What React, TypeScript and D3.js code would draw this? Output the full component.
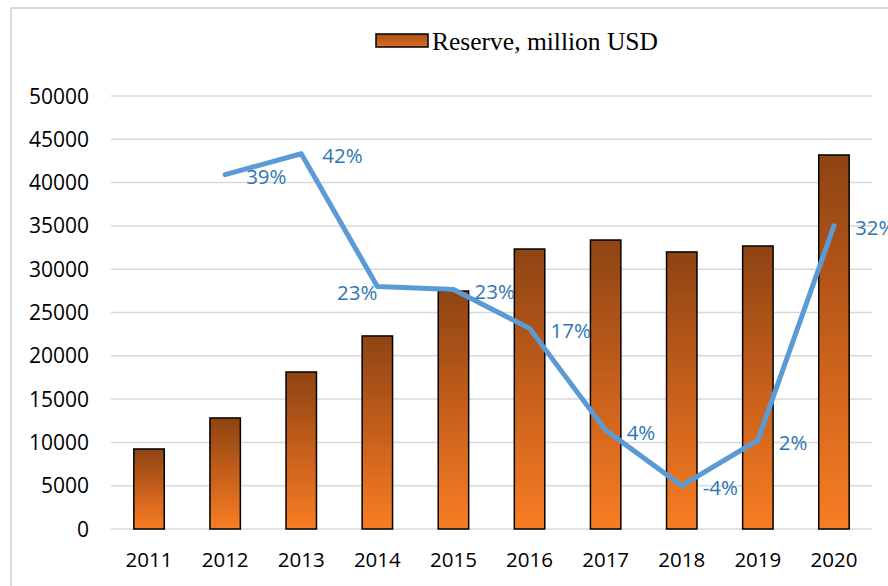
import React from "react";
import * as d3 from "d3";

const years = ["2011", "2012", "2013", "2014", "2015", "2016", "2017", "2018", "2019", "2020"];
const reserve = [9240, 12820, 18130, 22290, 27480, 32330, 33370, 31990, 32680, 43190];
const growthYears = ["2012", "2013", "2014", "2015", "2016", "2017", "2018", "2019", "2020"];
const growth = [39.1, 42.0, 23.6, 23.2, 17.8, 3.7, -4.0, 2.3, 32.0];
const growthLabels = ["39%", "42%", "23%", "23%", "17%", "4%", "-4%", "2%", "32%"];
const yTicks = [0, 5000, 10000, 15000, 20000, 25000, 30000, 35000, 40000, 45000, 50000];
const legendLabel = "Reserve, million USD";

const W = 888;
const H = 586;
const left = 111;
const right = 872;
const top = 96;
const bottom = 529;

export default function App() {
  const x = d3.scaleBand<string>().domain(years).range([left, right]).paddingInner(0.6).paddingOuter(0.3);
  const y = d3.scaleLinear().domain([0, 50000]).range([bottom, top]);
  const y2 = d3.scaleLinear().domain([-10, 50]).range([bottom, top]);
  const cx = (yr: string) => (x(yr) as number) + x.bandwidth() / 2;
  const line = d3
    .line<number>()
    .x((_, i) => cx(growthYears[i]))
    .y((d) => y2(d));
  const tickFont = "'Open Sans', sans-serif";

  return (
    <svg width={W} height={H} style={{ position: "absolute", left: 0, top: 0, background: "#fff" }}>
      <defs>
        <linearGradient id="barGrad" x1="0" y1="0" x2="0" y2="1">
          <stop offset="0%" stopColor="#8e4413" />
          <stop offset="50%" stopColor="#c65f1b" />
          <stop offset="100%" stopColor="#f87d24" />
        </linearGradient>
        <linearGradient id="legGrad" x1="0" y1="0" x2="0" y2="1">
          <stop offset="0%" stopColor="#a4501a" />
          <stop offset="100%" stopColor="#e06f20" />
        </linearGradient>
      </defs>
      <rect x={0} y={0} width={W} height={H} fill="#fff" />
      <line x1={11} y1={8} x2={W} y2={8} stroke="#d9d9d9" strokeWidth={2} />
      <line x1={11} y1={8} x2={11} y2={H} stroke="#d9d9d9" strokeWidth={2} />

      {yTicks.map((t) => (
        <g key={t}>
          <line x1={left} x2={right} y1={y(t)} y2={y(t)} stroke="#d9d9d9" strokeWidth={1.5} />
          <text x={89} y={y(t)} dy="0.36em" textAnchor="end" fontFamily={tickFont} fontSize={21} fill="#000">
            {t}
          </text>
        </g>
      ))}

      {years.map((yr, i) => (
        <rect
          key={yr}
          x={x(yr)}
          y={y(reserve[i])}
          width={x.bandwidth()}
          height={y(0) - y(reserve[i])}
          fill="url(#barGrad)"
          stroke="#000"
          strokeWidth={1.5}
        />
      ))}

      {years.map((yr) => (
        <text key={yr} x={cx(yr)} y={560} dy="0.36em" textAnchor="middle" fontFamily={tickFont} fontSize={20.5} fill="#000">
          {yr}
        </text>
      ))}

      <path d={line(growth) || ""} fill="none" stroke="#5b9bd5" strokeWidth={5} strokeLinejoin="round" strokeLinecap="round" />

      {growth.map((g, i) => {
        const px = cx(growthYears[i]);
        const py = y2(g);
        const isLeft = growthYears[i] === "2014";
        return (
          <text
            key={growthYears[i]}
            x={isLeft ? px : px + 21}
            y={py + (isLeft ? 6 : 2)}
            dy="0.36em"
            textAnchor={isLeft ? "end" : "start"}
            fontFamily={tickFont}
            fontSize={20.5}
            fill="#2e75b6"
          >
            {growthLabels[i]}
          </text>
        );
      })}

      <rect x={376} y={34} width={52} height={13} fill="url(#legGrad)" stroke="#000" strokeWidth={1.5} />
      <text x={432} y={41} dy="0.35em" fontFamily="Liberation Serif, serif" fontSize={25.5} fill="#000">
        {legendLabel}
      </text>
    </svg>
  );
}
